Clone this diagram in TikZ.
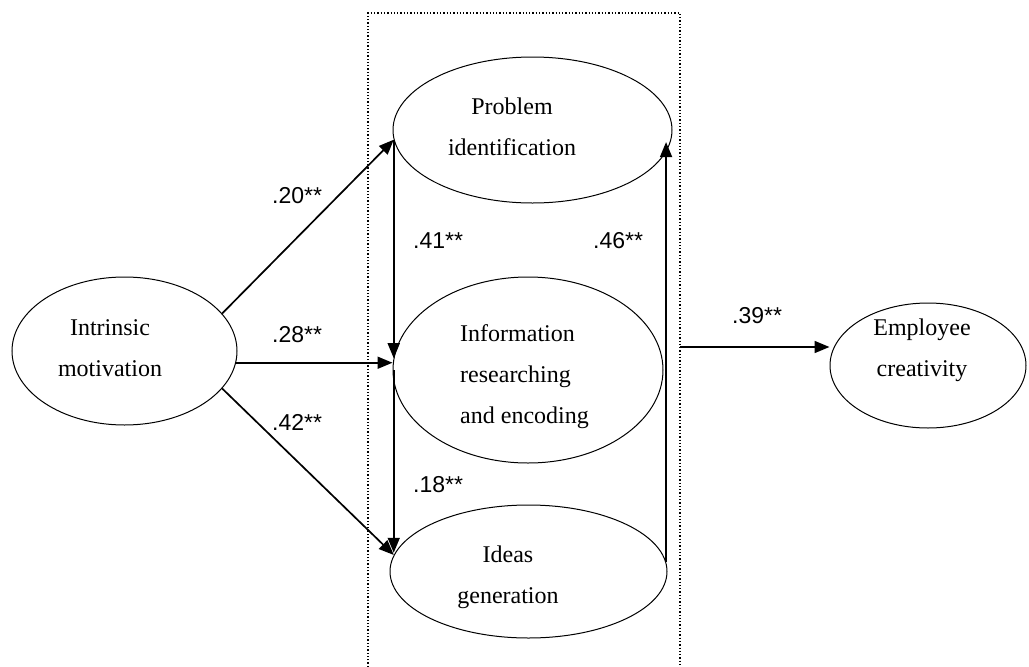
\documentclass[tikz,border=0pt]{standalone}
\usepackage{fontspec}
\setmainfont{Liberation Serif}
\newfontfamily\numfont{Liberation Sans}
\usetikzlibrary{arrows.meta,calc,shapes.geometric}
\begin{document}
\begin{tikzpicture}[x=1pt,y=-1pt,
  ell/.style={draw, ellipse, line width=1pt, inner sep=0pt},
  arr/.style={line width=1.7pt, -{Triangle[length=15pt,width=12pt]}},
  lab/.style={font=\fontsize{24}{41}\selectfont, inner sep=0pt},
  num/.style={font=\numfont\fontsize{23}{26}\selectfont, inner sep=0pt, anchor=base west}]
\useasboundingbox (0,0) rectangle (1029,667);
\fill[white] (0,0) rectangle (1029,667);
% dotted box
\draw[dotted, line width=1.3pt] (368,700) -- (368,13) -- (680,13) -- (680,700);
\coordinate (boxr) at (680,347);
% ellipses
\node[ell, minimum width=225pt, minimum height=148pt] (intr) at (124.5,351) {};
\node[ell, minimum width=279pt, minimum height=146pt] (prob) at (532.5,130) {};
\node[ell, minimum width=270pt, minimum height=186pt] (info) at (528,370) {};
\node[ell, minimum width=277pt, minimum height=133pt] (ideas) at (528.5,571.5) {};
\node[ell, minimum width=196pt, minimum height=125pt] (emp) at (928,365.5) {};
% texts
\node[lab, align=center] (tintr) at (110,348) {Intrinsic\\motivation};
\node[lab, align=center] (tprob) at (512,127) {Problem\\identification};
\node[lab, align=left, anchor=west] (tinfo) at (460,377) {Information\\researching\\and encoding};
\node[lab, align=center] (tideas) at (508,577) {Ideas\\generation};
\node[lab, align=center] (temp) at (922,350) {Employee\\creativity};
% connectors
\draw[arr] (intr.21.5) -- (prob.184);
\draw[arr] (intr.-6) -- (intr.-6 -| info.west);
\draw[arr] (intr.-21.5) -- (ideas.173);
\draw[arr] (prob.184) -- (prob.184 |- info.175);
\draw[arr] (prob.184 |- info.west) -- (prob.184 |- ideas.172);
\draw[arr] (ideas.4) -- (ideas.4 |- prob.355);
\draw[arr] (boxr) -- (boxr -| emp.west);
% coefficients
\node[num] (n20) at (272,203) {.20**};
\node[num] (n28) at (272,342) {.28**};
\node[num] (n42) at (272,430) {.42**};
\node[num] (n41) at (413,248) {.41**};
\node[num] (n46) at (593,248) {.46**};
\node[num] (n18) at (413,492) {.18**};
\node[num] (n39) at (732,323) {.39**};
\end{tikzpicture}
\end{document}
